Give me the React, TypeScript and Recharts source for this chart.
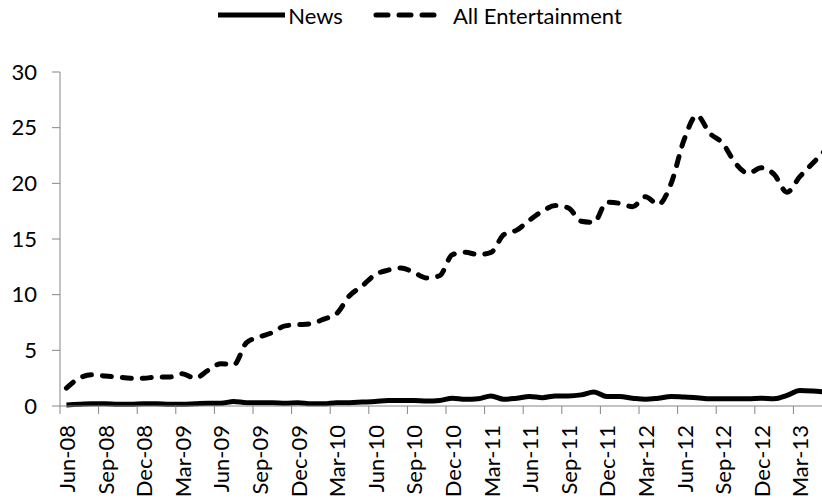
import React from 'react';
import { LineChart, Line, XAxis, YAxis, Legend } from 'recharts';

const months = [
  'Jun-08', 'Jul-08', 'Aug-08', 'Sep-08', 'Oct-08', 'Nov-08', 'Dec-08',
  'Jan-09', 'Feb-09', 'Mar-09', 'Apr-09', 'May-09', 'Jun-09', 'Jul-09', 'Aug-09', 'Sep-09', 'Oct-09', 'Nov-09', 'Dec-09',
  'Jan-10', 'Feb-10', 'Mar-10', 'Apr-10', 'May-10', 'Jun-10', 'Jul-10', 'Aug-10', 'Sep-10', 'Oct-10', 'Nov-10', 'Dec-10',
  'Jan-11', 'Feb-11', 'Mar-11', 'Apr-11', 'May-11', 'Jun-11', 'Jul-11', 'Aug-11', 'Sep-11', 'Oct-11', 'Nov-11', 'Dec-11',
  'Jan-12', 'Feb-12', 'Mar-12', 'Apr-12', 'May-12', 'Jun-12', 'Jul-12', 'Aug-12', 'Sep-12', 'Oct-12', 'Nov-12', 'Dec-12',
  'Jan-13', 'Feb-13', 'Mar-13', 'Apr-13', 'May-13',
];

const news = [
  0.1, 0.15, 0.2, 0.2, 0.15, 0.15, 0.2,
  0.2, 0.15, 0.15, 0.2, 0.25, 0.25, 0.4, 0.3, 0.3, 0.3, 0.25, 0.3,
  0.2, 0.2, 0.3, 0.3, 0.35, 0.4, 0.5, 0.5, 0.5, 0.45, 0.5, 0.7,
  0.6, 0.65, 0.9, 0.6, 0.7, 0.85, 0.75, 0.9, 0.9, 1.0, 1.25, 0.85,
  0.85, 0.7, 0.6, 0.7, 0.85, 0.8, 0.75, 0.65, 0.65, 0.65, 0.65, 0.7,
  0.65, 0.95, 1.4, 1.35, 1.25,
];

const entertainment = [
  1.6, 2.5, 2.8, 2.7, 2.6, 2.5, 2.5,
  2.6, 2.6, 2.9, 2.5, 3.2, 3.8, 3.7, 5.7, 6.2, 6.6, 7.2, 7.3,
  7.4, 7.8, 8.3, 9.9, 10.8, 11.8, 12.2, 12.4, 12.0, 11.5, 11.7, 13.6,
  13.8, 13.6, 13.8, 15.4, 15.8, 16.7, 17.5, 18.0, 17.8, 16.6, 16.5, 18.3,
  18.2, 17.9, 18.8, 18.1, 20.0, 23.9, 26.1, 24.5, 23.6, 21.8, 20.9, 21.4,
  20.8, 19.2, 20.6, 21.8, 23.0,
];

const yTicks = [0, 5, 10, 15, 20, 25, 30];
const seriesOrder = ['news', 'ent'];

const data = months.map((m, i) => ({ month: m, news: news[i], ent: entertainment[i] }));

const FONT = 'Lato, "Open Sans", sans-serif';
const AXIS_GREY = '#868686';
const DASH = '9 11';
const LEGEND_DASH = '12 11';
const HALF_STEP = 6.43;

// Excel-style category tick: mark on the boundary, label rotated at the category centre
const MonthTick = (props: any) => {
  const { x, y, payload } = props;
  const ly = y + 19;
  return (
    <g>
      <line x1={x - HALF_STEP} x2={x - HALF_STEP} y1={y} y2={y + 8} stroke={AXIS_GREY} strokeWidth={1} />
      <text
        x={x}
        y={ly}
        transform={`rotate(-90, ${x}, ${ly})`}
        textAnchor="end"
        dominantBaseline="central"
        fontFamily={FONT}
        fontSize={22}
        fill="#000"
      >
        {payload.value}
      </text>
    </g>
  );
};

const LegendContent = (props: any) => {
  const payload = [...(props.payload || [])].sort(
    (a: any, b: any) => seriesOrder.indexOf(a.dataKey) - seriesOrder.indexOf(b.dataKey)
  );
  return (
    <div style={{ display: 'flex', justifyContent: 'center', alignItems: 'center', height: 30, paddingLeft: 8, fontFamily: FONT, fontSize: 22 }}>
      {payload.map((entry: any, i: number) => {
        const dashed = entry.dataKey === 'ent';
        return (
          <div key={entry.value} style={{ display: 'flex', alignItems: 'center', marginLeft: i > 0 ? 30 : 0 }}>
            <svg width={dashed ? 72 : 67} height={10} style={{ marginRight: dashed ? 8 : 3 }}>
              <line
                x1={dashed ? 3 : 0}
                x2={dashed ? 66 : 67}
                y1={5}
                y2={5}
                stroke="#000"
                strokeWidth={5}
                strokeLinecap={dashed ? 'round' : 'butt'}
                strokeDasharray={dashed ? LEGEND_DASH : undefined}
              />
            </svg>
            <span style={{ color: '#000' }}>{entry.value}</span>
          </div>
        );
      })}
    </div>
  );
};

export default function App() {
  return (
    <div style={{ position: 'fixed', left: 0, top: 0, width: 822, height: 501, overflow: 'hidden', background: '#fff' }}>
      <LineChart width={832} height={501} data={data} margin={{ top: 42, right: 0, bottom: 0, left: 0 }}>
        <Legend verticalAlign="top" align="center" content={<LegendContent />} wrapperStyle={{ top: 0 }} />
        <XAxis
          dataKey="month"
          interval={2}
          height={95}
          padding={{ left: HALF_STEP, right: HALF_STEP }}
          axisLine={{ stroke: AXIS_GREY }}
          tickLine={false}
          tickSize={0}
          tickMargin={0}
          tick={<MonthTick />}
        />
        <YAxis
          width={60}
          domain={[0, 30]}
          ticks={yTicks}
          interval={0}
          axisLine={{ stroke: AXIS_GREY }}
          tickLine={{ stroke: AXIS_GREY }}
          tickSize={8}
          tickMargin={15}
          tick={{ fill: '#000', fontSize: 22, fontFamily: FONT }}
        />
        <Line
          type="monotone"
          dataKey="news"
          name="News"
          stroke="#000"
          strokeWidth={5}
          dot={false}
          isAnimationActive={false}
        />
        <Line
          type="monotone"
          dataKey="ent"
          name="All Entertainment"
          stroke="#000"
          strokeWidth={5}
          strokeDasharray={DASH}
          strokeLinecap="round"
          dot={false}
          isAnimationActive={false}
        />
      </LineChart>
    </div>
  );
}
